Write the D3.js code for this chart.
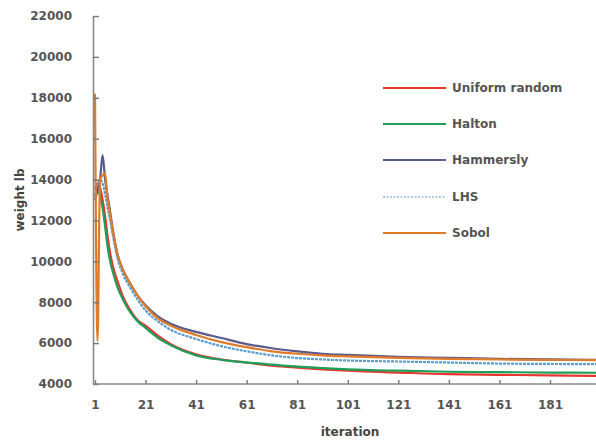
<!DOCTYPE html>
<html>
<head>
<meta charset="utf-8">
<script src="https://cdn.jsdelivr.net/npm/d3@7"></script>
<style>
  body { margin: 0; background: #fff; }
  text { font-family: "DejaVu Sans", Verdana, sans-serif; }
</style>
</head>
<body>
<svg id="chart"></svg>
<script>
const iterations = [1, 2, 3, 4, 5, 6, 7, 8, 10, 12, 15, 18, 21, 26, 31, 41, 51, 61, 71, 81, 91, 101, 121, 141, 161, 181, 200];

const uniformRandom = [13500, 13800, 13600, 13000, 12200, 11200, 10400, 9800, 9000, 8300, 7600, 7100, 6850, 6350, 5950, 5450, 5200, 5050, 4900, 4800, 4720, 4650, 4560, 4480, 4450, 4420, 4400];
const halton = [13200, 13500, 13200, 12600, 11700, 10700, 10000, 9500, 8700, 8150, 7500, 7050, 6750, 6250, 5900, 5400, 5180, 5050, 4950, 4850, 4780, 4720, 4650, 4600, 4580, 4560, 4550];
const hammersly = [13000, 13500, 14000, 15200, 14000, 13200, 12400, 11600, 10300, 9600, 8900, 8300, 7850, 7300, 6950, 6550, 6250, 5950, 5750, 5600, 5480, 5420, 5330, 5280, 5230, 5200, 5180];
const lhs = [13500, 13800, 14000, 13800, 13300, 12600, 12000, 11300, 10100, 9400, 8700, 8100, 7600, 7050, 6650, 6200, 5850, 5600, 5400, 5270, 5200, 5150, 5100, 5050, 5000, 4980, 4970];
const sobol = [18200, 6100, 14000, 14200, 14300, 13000, 12300, 11500, 10300, 9600, 8900, 8300, 7800, 7200, 6850, 6400, 6050, 5800, 5600, 5480, 5400, 5350, 5280, 5230, 5200, 5180, 5170];

const seriesNames = ["Uniform random", "Halton", "Hammersly", "LHS", "Sobol"];
const seriesValues = [uniformRandom, halton, hammersly, lhs, sobol];
const seriesColors = ["#e8352e", "#1f9e5a", "#5b5a8c", "#5a9bd0", "#e07b28"];

const xTicks = [1, 21, 41, 61, 81, 101, 121, 141, 161, 181];
const yTicks = [4000, 6000, 8000, 10000, 12000, 14000, 16000, 18000, 20000, 22000];

const W = 596, H = 440;
const svg = d3.select("#chart").attr("width", W).attr("height", H);

const x = d3.scaleLinear().domain([1, 200]).range([95, 598]);
const y = d3.scaleLinear().domain([4000, 22000]).range([384, 16]);

// lines first, axes drawn on top
const line = d3.line()
    .x(d => x(d.it))
    .y(d => y(d.v))
    .curve(d3.curveMonotoneX);

seriesValues.forEach((vals, i) => {
    const data = iterations.map((it, j) => ({it: it, v: vals[j]}));
    svg.append("path")
        .datum(data)
        .attr("fill", "none")
        .attr("stroke", seriesColors[i])
        .attr("stroke-width", 2.2)
        .attr("stroke-dasharray", seriesNames[i] == "LHS" ? "3,1" : null)
        .attr("d", line);
});

// y axis, ticks pointing into the plot
const yAxis = svg.append("g")
    .attr("transform", "translate(93,0)")
    .call(d3.axisLeft(y).tickValues(yTicks).tickFormat(d3.format("d")).tickSize(-6).tickPadding(21).tickSizeOuter(0));

// x axis
const xAxis = svg.append("g")
    .attr("transform", "translate(0,384)")
    .call(d3.axisBottom(x).tickValues(xTicks).tickFormat(d3.format("d")).tickSize(-4).tickPadding(16).tickSizeOuter(0));

[yAxis, xAxis].forEach(ax => {
    ax.select(".domain").attr("stroke", "#888").attr("stroke-width", 1.6);
    ax.selectAll(".tick line").attr("stroke", "#777").attr("stroke-width", 1.4);
    ax.selectAll(".tick text")
        .attr("fill", "#555")
        .style("font-family", "DejaVu Sans, Verdana, sans-serif")
        .style("font-size", "12px")
        .style("font-weight", "bold");
});
xAxis.select(".domain").attr("d", "M93,0H598");

// axis titles
svg.append("text")
    .attr("x", 350).attr("y", 436)
    .attr("text-anchor", "middle")
    .attr("fill", "#444")
    .style("font-size", "12px").style("font-weight", "bold")
    .text("iteration");

svg.append("text")
    .attr("transform", "translate(24,200) rotate(-90)")
    .attr("text-anchor", "middle")
    .attr("fill", "#444")
    .style("font-size", "12px").style("font-weight", "bold")
    .text("weight lb");

// legend
const legendY = [88, 124, 160, 197, 233];
seriesNames.forEach((name, i) => {
    const g = svg.append("g").attr("transform", "translate(383," + legendY[i] + ")");
    g.append("line")
        .attr("x1", 0).attr("x2", 63)
        .attr("stroke", name == "LHS" ? "#8fbde0" : seriesColors[i])
        .attr("stroke-width", name == "LHS" ? 1.5 : 2.2)
        .attr("stroke-dasharray", name == "LHS" ? "2,1.5" : null);
    g.append("text")
        .attr("x", 69).attr("dy", "0.35em")
        .attr("fill", "#555")
        .style("font-size", "12px").style("font-weight", "bold")
        .text(name);
});
</script>
</body>
</html>
